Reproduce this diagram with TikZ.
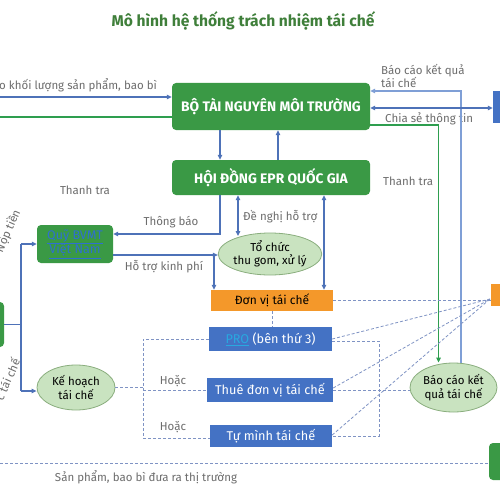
\documentclass[tikz,border=0pt]{standalone}
\usepackage{fontspec}
\setmainfont{Fira Sans}
\usetikzlibrary{shapes.geometric,arrows.meta}
\definecolor{grn}{HTML}{3A9945}
\definecolor{ttl}{HTML}{3F7F3A}
\definecolor{bbox}{HTML}{4472C4}
\definecolor{org}{HTML}{F4982A}
\definecolor{ellf}{HTML}{C9E3C0}
\definecolor{elld}{HTML}{8AAE7E}
\definecolor{gry}{HTML}{6D6D6D}
\definecolor{arb}{HTML}{4E72B8}
\definecolor{arl}{HTML}{7F9FD6}
\definecolor{dsh}{HTML}{7F93C4}
\definecolor{lnk}{HTML}{2F6FD0}
\definecolor{lnk2}{HTML}{29A8E0}
\definecolor{gl}{HTML}{2E9E4F}
\begin{document}
\begin{tikzpicture}[x=1pt,y=-1pt,
  gbox/.style={fill=grn,rounded corners=4pt,inner sep=0pt,text=white,font=\bfseries\fontsize{13.8}{16}\selectfont},
  bbx/.style={fill=bbox,inner sep=0pt,text=white,font=\fontsize{12.7}{15}\selectfont},
  obx/.style={fill=org,inner sep=0pt,text=black,font=\fontsize{12}{14}\selectfont},
  ell/.style={ellipse,fill=ellf,draw=elld,line width=0.8pt,inner sep=0pt,align=center,font=\fontsize{11.5}{13.5}\selectfont},
  lbl/.style={text=gry,inner sep=0pt,font=\fontsize{11.5}{13.5}\selectfont},
  ar/.style={draw=arb,line width=1.1pt,-{Triangle[length=5pt,width=4.5pt]}},
  ar2/.style={draw=arb,line width=1.1pt,{Triangle[length=5pt,width=4.5pt]}-{Triangle[length=5pt,width=4.5pt]}},
  pl/.style={draw=arb,line width=1.1pt},
  gln/.style={draw=gl,line width=1.3pt},
  dl/.style={draw=dsh,line width=0.8pt,dash pattern=on 3pt off 2pt}]
\useasboundingbox (0,0) rectangle (500,500);
\clip (0,0) rectangle (500,500);
\fill[white] (0,0) rectangle (500,500);
% title
\node[font=\bfseries\fontsize{15.6}{18}\selectfont,text=ttl] (title) at (243,21) {Mô hình hệ thống trách nhiệm tái chế};
% nodes
\node[gbox,minimum width=198pt,minimum height=47pt] (btn) at (271,106.5) {BỘ TÀI NGUYÊN MÔI TRƯỜNG};
\node[gbox,minimum width=198pt,minimum height=35pt] (hd) at (271,177.5) {HỘI ĐỒNG EPR QUỐC GIA};
\node[gbox,minimum width=76pt,minimum height=38pt,align=center,text=lnk,font=\fontsize{12.5}{14}\selectfont] (quy) at (75,244) {\underline{Quỹ BVMT}\\[-1pt]\underline{Việt Nam}};
\node[ell,minimum width=88pt,minimum height=42pt] (tc) at (270,254) {Tổ chức\\thu gom, xử lý};
\node[obx,minimum width=122pt,minimum height=21pt] (dv) at (272,300.5) {Đơn vị tái chế};
\node[bbx,minimum width=123pt,minimum height=24pt] (pro) at (270.5,339) {\textcolor{lnk2}{\underline{PRO}} (bên thứ 3)};
\node[bbx,minimum width=126pt,minimum height=24pt] (thue) at (270,390) {Thuê đơn vị tái chế};
\node[bbx,minimum width=122pt,minimum height=22pt] (tu) at (271,436) {Tự mình tái chế};
\node[ell,minimum width=78pt,minimum height=45pt] (kh) at (76,387.5) {Kế hoạch\\tái chế};
\node[ell,minimum width=87pt,minimum height=49pt] (bc) at (453.5,387.5) {Báo cáo kết\\quả tái chế};
% partial boxes at edges
\node[fill=grn,rounded corners=4pt,minimum width=30pt,minimum height=45pt,inner sep=0pt] (lg) at (-11,324.5) {};
\node[fill=bbox,minimum width=30pt,minimum height=32pt,inner sep=0pt] (rb) at (508,107) {};
\node[fill=org,minimum width=30pt,minimum height=22pt,inner sep=0pt] (ro) at (506,295) {};
\node[fill=grn,rounded corners=4pt,minimum width=30pt,minimum height=37pt,inner sep=0pt] (rg) at (504,461.5) {};
% coordinates
\coordinate (l1) at (0,97);
\coordinate (l2) at (0,117);
\coordinate (j1) at (21,324.5);
\coordinate (bot) at (0,463);
% top left connectors
\draw[ar] (l1) -- (l1 -| btn.west);
\node[lbl,anchor=west] (t1) at (-1,85) {o khối lượng sản phẩm, bao bì};
\draw[gln] (l2) -- (l2 -| btn.west);
\node[lbl] (tt1) at (85,190) {Thanh tra};
% BTN <-> HD
\draw[ar] (btn.south -| 220,0) -- (hd.north -| 220,0);
\draw[ar] (hd.north -| 278,0) -- (btn.south -| 278,0);
% Báo cáo -> BTN
\draw[draw=arl,line width=1.1pt,-{Triangle[length=5pt,width=4.5pt]}] (bc.north -| 461,0) -- (461,91) -- (btn.east |- 0,91);
\node[lbl,align=left,anchor=north west] (t2) at (381,64) {Báo cáo kết quả\\tái chế};
% chia se
\draw[ar2] (btn.east |- 0,108) -- (rb.west |- 0,108);
\node[lbl,anchor=west] (t3) at (385,119) {Chia sẻ thông tin};
\draw[draw=arl,line width=1.1pt] (461,112) -- (461,126);
% green thanh tra
\draw[gln,-{Triangle[length=5pt,width=4.5pt]}] (btn.east |- 0,125) -- (438.5,125) -- (bc.north -| 438.5,0);
\node[lbl,anchor=west] (tt2) at (383,181) {Thanh tra};
% HD -> Quy
\draw[ar] (hd.south -| 220,0) -- (220,234) -- (quy.east |- 0,234);
\node[lbl] (t4) at (171,222) {Thông báo};
% de nghi ho tro
\draw[ar2] (hd.south -| 238,0) -- (238,236);
\node[lbl,anchor=west] (t5) at (243,217) {Đề nghị hỗ trợ};
\draw[ar2] (hd.south -| 324,0) -- (dv.north -| 324,0);
% ho tro kinh phi
\draw[ar] (quy.east |- 0,255) -- (tc.west |- 0,255);
\draw[ar] (214,255) -- (dv.north -| 214,0);
\node[lbl] (t6) at (164,267) {Hỗ trợ kinh phí};
% left branch
\draw[pl] (lg.east |- j1) -- (j1);
\draw[ar] (21,244) |- (quy.west);
\draw[pl] (21,244) -- (21,391);
\draw[ar] (21,391) -- (kh.west |- 0,391);
\node[lbl,rotate=66] (t7) at (8,231) {Nộp tiền};
\node[lbl,rotate=66,anchor=east] (t8) at (16,359) {c tái chế};
% dashed
\draw[dl] (dv.south -| 272,0) -- (pro.north -| 272,0);
\draw[dl] (dv.east) -- (ro.west |- dv.east);
\coordinate (cv) at (490,299);
\draw[dl] (kh.east) -- (143,387.5);
\draw[dl] (pro.west) -| (143,438) -- (tu.west |- 0,438);
\draw[dl] (143,390) -- (thue.west);
\node[lbl] (h1) at (173,381) {Hoặc};
\node[lbl] (h2) at (173,427) {Hoặc};
\draw[dl] (pro.east |- 0,341) -| (379,436) -- (tu.east |- 0,436);
\draw[dl] (thue.east) -- (bc.west |- thue.east);
\draw[dl] (pro.east |- 0,339) -- (cv);
\draw[dl] (thue.east |- 0,388) -- (cv);
\draw[dl] (tu.east |- 0,435) -- (cv);
% bottom
\draw[dl] (bot) -- (rg.west |- bot);
\node[lbl] (t9) at (146,477) {Sản phẩm, bao bì đưa ra thị trường};
\end{tikzpicture}
\end{document}
